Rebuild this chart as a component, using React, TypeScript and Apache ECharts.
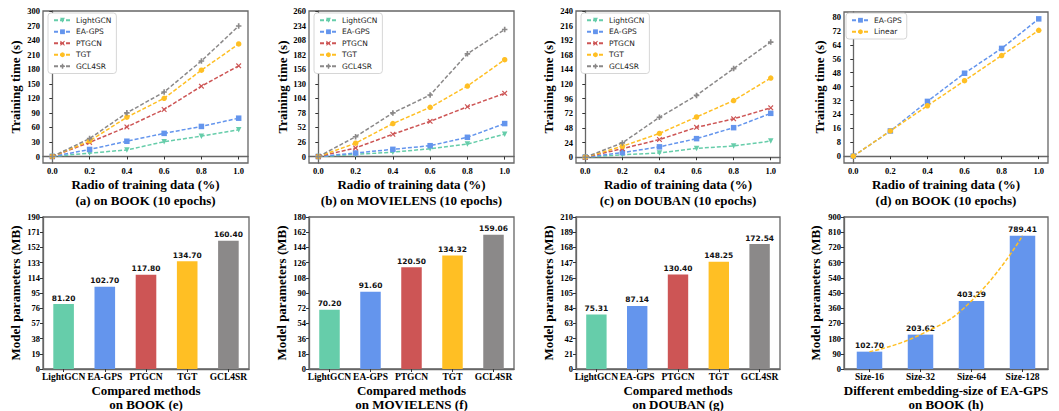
import React, { useEffect, useRef } from "react";
import * as echarts from "echarts";

// ---------------- data ----------------
const RATIOS = [0, 0.2, 0.4, 0.6, 0.8, 1.0];
const METHODS = ["LightGCN", "EA-GPS", "PTGCN", "TGT", "GCL4SR"];

// training time (s), rows follow METHODS
const BOOK_TIME = [
  [0, 7, 13.5, 30.5, 42, 55],
  [0, 14.5, 31.5, 47.7, 62, 79],
  [0, 29, 61, 97, 145, 187],
  [0, 32, 81, 120, 178, 232],
  [0, 37, 90, 133, 197, 269],
];
const MOVIE_TIME = [
  [0, 4, 8, 14, 22.5, 40],
  [0, 6.5, 13, 19.5, 34.5, 59],
  [0, 15.5, 40, 63, 89, 113],
  [0, 24, 59, 88, 126, 173],
  [0, 35.5, 78, 110, 183.5, 227],
];
const DOUBAN_TIME = [
  [0, 4, 7, 14.5, 18.5, 26.5],
  [0, 7.5, 17, 30.5, 48.5, 72],
  [0, 14, 29, 49, 63, 81],
  [0, 18, 39, 66, 93, 130],
  [0, 23.5, 65.5, 101.5, 145.5, 189],
];
const SCALE_EAGPS = [0, 14.5, 31.5, 47.7, 62, 79];
const SCALE_LINEAR = [0, 14.5, 29, 43.4, 57.9, 72.4];

const BOOK_PARAMS = [81.2, 102.7, 117.8, 134.7, 160.4];
const MOVIE_PARAMS = [70.2, 91.6, 120.5, 134.32, 159.06];
const DOUBAN_PARAMS = [75.31, 87.14, 130.4, 148.25, 172.54];
const SIZES = ["Size-16", "Size-32", "Size-64", "Size-128"];
const SIZE_PARAMS = [102.7, 203.62, 403.29, 789.41];

// tick labels
const X_TICKS = [0, 0.2, 0.4, 0.6, 0.8, 1.0];
const TICKS_A = [0, 30, 60, 90, 120, 150, 180, 210, 240, 270, 300];
const TICKS_B = [0, 26, 52, 78, 104, 130, 156, 182, 208, 234, 260];
const TICKS_C = [0, 24, 48, 72, 96, 120, 144, 168, 192, 216, 240];
const TICKS_D = [0, 8, 16, 24, 32, 40, 48, 56, 64, 72, 80];

// ---------------- styles ----------------
const COLORS = ["#66CDAA", "#6495ED", "#CD5555", "#FFBF24", "#8B8989"];
const SERIF = "Liberation Serif";
const SANS = "DejaVu Sans";
const X_SHAPE =
  "path://M0,1.5 L1.5,0 L5,3.5 L8.5,0 L10,1.5 L6.5,5 L10,8.5 L8.5,10 L5,6.5 L1.5,10 L0,8.5 L3.5,5 Z";
const PLUS_SHAPE =
  "path://M3.5,0 H6.5 V3.5 H10 V6.5 H6.5 V10 H3.5 V6.5 H0 V3.5 H3.5 Z";
const SYMBOLS = ["triangle", "rect", X_SHAPE, "circle", PLUS_SHAPE];
const SYMBOL_ROT = [180, 0, 0, 0, 0];

// grid boxes: left, top, width, height
const GRIDS = [
  [43, 11, 205, 152],
  [309, 11, 205, 152],
  [576, 11, 204, 152],
  [844, 12, 204, 151],
  [43, 217, 206, 152],
  [309, 217, 205, 152],
  [576, 217, 204, 152],
  [844, 217, 204, 152],
];

const axisLine = { show: true, lineStyle: { color: "#666", width: 1.3 } };
const axisTick = { show: true, length: 3, lineStyle: { color: "#333", width: 1 } };
const tickLabel = {
  color: "#000",
  fontFamily: SERIF,
  fontWeight: "bold" as const,
  fontSize: 8.5,
  margin: 3,
};

function buildOption() {
  const grid = GRIDS.map(([left, top, width, height]) => ({
    left,
    top,
    width,
    height,
    show: true,
    borderColor: "#666",
    borderWidth: 1.3,
    backgroundColor: "transparent",
  }));

  const xAxis: any[] = [];
  const yAxis: any[] = [];
  const series: any[] = [];
  const legend: any[] = [];

  const lineSets = [
    { data: BOOK_TIME, ticks: TICKS_A, min: -13.4 },
    { data: MOVIE_TIME, ticks: TICKS_B, min: -11.4 },
    { data: DOUBAN_TIME, ticks: TICKS_C, min: -9.5 },
  ];

  const makeLineX = (gi: number) => ({
    type: "value",
    gridIndex: gi,
    min: -0.05,
    max: 1.05,
    axisLine,
    axisTick: { ...axisTick, customValues: X_TICKS },
    axisLabel: { ...tickLabel, customValues: X_TICKS, formatter: (v: number) => v.toFixed(1) },
    splitLine: { show: false },
  });
  const makeLineY = (gi: number, ticks: number[], min: number, max: number) => ({
    type: "value",
    gridIndex: gi,
    min,
    max,
    axisLine,
    axisTick: { ...axisTick, customValues: ticks },
    axisLabel: { ...tickLabel, customValues: ticks },
    splitLine: { show: false },
  });

  const legendBase = (left: number, names: string[]) => ({
    left,
    top: 13,
    orient: "vertical",
    data: names,
    itemWidth: 17,
    itemHeight: 6,
    itemGap: 3,
    padding: [3, 5, 3, 5],
    borderColor: "#ccc",
    borderWidth: 0.8,
    borderRadius: 3,
    backgroundColor: "#fff",
    selectedMode: false,
    textStyle: { fontFamily: SANS, fontSize: 7.5, color: "#222", lineHeight: 8.5 },
  });

  const lineSeries = (name: string, gi: number, vals: number[], mi: number) => ({
    type: "line",
    name,
    xAxisIndex: gi,
    yAxisIndex: gi,
    data: RATIOS.map((r, i) => [r, vals[i]]),
    symbol: SYMBOLS[mi],
    symbolRotate: SYMBOL_ROT[mi],
    symbolSize: 5.5,
    lineStyle: { type: [4, 2], width: 1.5, color: COLORS[mi] },
    itemStyle: { color: COLORS[mi] },
  });

  lineSets.forEach((set, gi) => {
    xAxis.push(makeLineX(gi));
    yAxis.push(makeLineY(gi, set.ticks, set.min, set.ticks[set.ticks.length - 1]));
    METHODS.forEach((m, mi) => series.push(lineSeries(m, gi, set.data[mi], mi)));
    legend.push(legendBase(GRIDS[gi][0] + 5, METHODS));
  });

  // (d)
  xAxis.push(makeLineX(3));
  yAxis.push(makeLineY(3, TICKS_D, -3.95, 82.95));
  series.push(lineSeries("EA-GPS", 3, SCALE_EAGPS, 1));
  series.push(lineSeries("Linear", 3, SCALE_LINEAR, 3));
  legend.push(legendBase(GRIDS[3][0] + 2, ["EA-GPS", "Linear"]));

  const barLabel = {
    show: true,
    position: "top",
    distance: 2,
    fontFamily: SANS,
    fontWeight: "bold",
    fontSize: 7.5,
    color: "#111",
    formatter: (p: any) => Number(p.value).toFixed(2),
  };

  const barSets = [
    { data: BOOK_PARAMS, max: 190, interval: 19 },
    { data: MOVIE_PARAMS, max: 180, interval: 18 },
    { data: DOUBAN_PARAMS, max: 210, interval: 21 },
  ];
  const catAxis = (gi: number, cats: string[]) => ({
    type: "category",
    gridIndex: gi,
    data: cats,
    axisLine,
    axisTick: { ...axisTick, alignWithLabel: true },
    axisLabel: { ...tickLabel, fontSize: 9.5, interval: 0 },
    splitLine: { show: false },
  });
  const valAxis = (gi: number, max: number, interval: number) => ({
    type: "value",
    gridIndex: gi,
    min: 0,
    max,
    interval,
    axisLine,
    axisTick,
    axisLabel: tickLabel,
    splitLine: { show: false },
  });

  barSets.forEach((set, k) => {
    const gi = 4 + k;
    xAxis.push(catAxis(gi, METHODS));
    yAxis.push(valAxis(gi, set.max, set.interval));
    series.push({
      type: "bar",
      name: "params-" + gi,
      xAxisIndex: gi,
      yAxisIndex: gi,
      barWidth: "50%",
      data: set.data.map((v, i) => ({ value: v, itemStyle: { color: COLORS[i] } })),
      label: barLabel,
    });
  });

  // (h)
  xAxis.push(catAxis(7, SIZES));
  yAxis.push(valAxis(7, 900, 90));
  series.push({
    type: "bar",
    name: "size-bars",
    xAxisIndex: 7,
    yAxisIndex: 7,
    barWidth: "50%",
    data: SIZE_PARAMS,
    itemStyle: { color: COLORS[1] },
    label: barLabel,
  });
  series.push({
    type: "line",
    name: "size-trend",
    xAxisIndex: 7,
    yAxisIndex: 7,
    data: SIZE_PARAMS,
    smooth: 0.5,
    symbol: "none",
    lineStyle: { type: [4, 2], width: 1.5, color: COLORS[3] },
    z: 5,
  });

  const titleFont = { fontFamily: SERIF, fontWeight: "bold", fontSize: 13, fill: "#000" };
  const yTitle = (x: number, y: number, text: string) => ({
    type: "text",
    x,
    y,
    rotation: Math.PI / 2,
    style: { ...titleFont, text, align: "center", verticalAlign: "middle" },
  });
  const xTitle = (x: number, y: number, text: string, lh: number) => ({
    type: "text",
    x,
    y,
    style: { ...titleFont, text, align: "center", verticalAlign: "middle", lineHeight: lh },
  });
  const cx = (gi: number) => GRIDS[gi][0] + GRIDS[gi][2] / 2;

  const graphic = [
    yTitle(15, 87, "Training time (s)"),
    yTitle(282, 87, "Training time (s)"),
    yTitle(548, 87, "Training time (s)"),
    yTitle(819, 87, "Training time (s)"),
    yTitle(15, 293, "Model parameters (MB)"),
    yTitle(281, 293, "Model parameters (MB)"),
    yTitle(548, 293, "Model parameters (MB)"),
    yTitle(815, 293, "Model parameters (MB)"),
    xTitle(cx(0), 192, "Radio of training data (%)\n(a) on BOOK (10 epochs)", 16),
    xTitle(cx(1), 192, "Radio of training data (%)\n(b) on MOVIELENS (10 epochs)", 16),
    xTitle(cx(2), 192, "Radio of training data (%)\n(c) on DOUBAN (10 epochs)", 16),
    xTitle(cx(3), 192, "Radio of training data (%)\n(d) on BOOK (10 epochs)", 16),
    xTitle(cx(4), 397, "Compared methods\non BOOK (e)", 14),
    xTitle(cx(5), 397, "Compared methods\non MOVIELENS (f)", 14),
    xTitle(cx(6), 397, "Compared methods\non DOUBAN (g)", 14),
    xTitle(cx(7), 397, "Different embedding-size of EA-GPS\non BOOK (h)", 14),
  ];

  return {
    animation: false,
    backgroundColor: "#fff",
    grid,
    xAxis,
    yAxis,
    series,
    legend,
    graphic,
  };
}

export default function App() {
  const ref = useRef<HTMLDivElement>(null);
  useEffect(() => {
    if (!ref.current) return;
    const chart = echarts.init(ref.current, undefined, { renderer: "svg" });
    chart.setOption(buildOption() as any);
    return () => chart.dispose();
  }, []);
  return (
    <div
      ref={ref}
      style={{ position: "absolute", left: 0, top: 0, width: 1059, height: 411 }}
    />
  );
}
